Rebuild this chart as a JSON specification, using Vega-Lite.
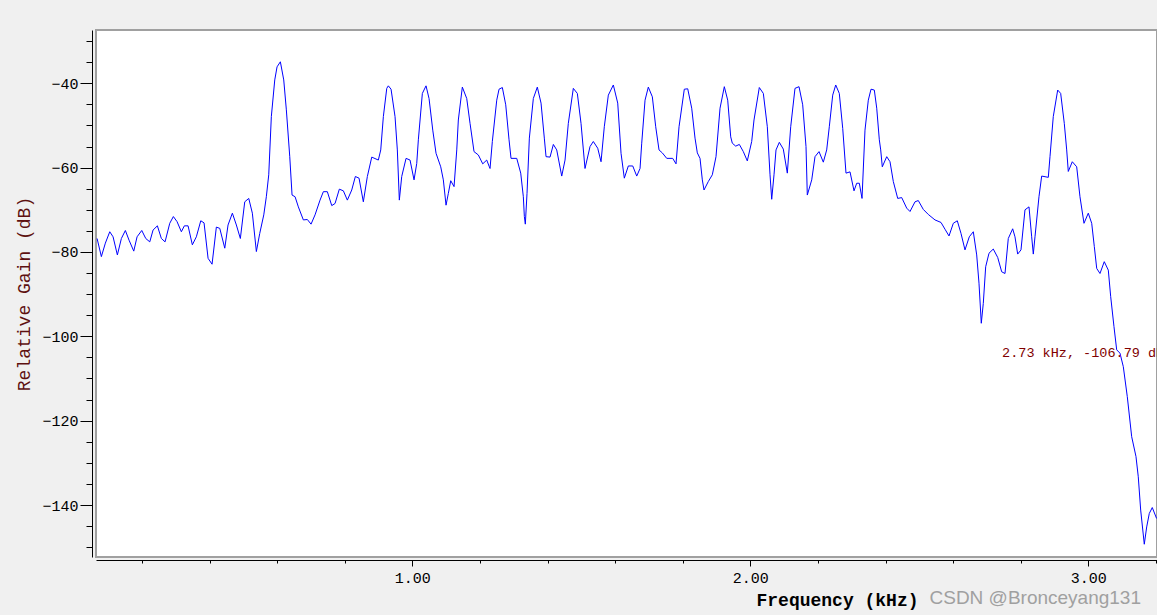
{
  "$schema": "https://vega.github.io/schema/vega-lite/v6.json",
  "width": 1061,
  "height": 527,
  "autosize": {"type": "none"},
  "padding": {"left": 96, "top": 30, "right": 0, "bottom": 58},
  "background": "#f0f0f0",
  "config": {
    "view": {"fill": "white", "stroke": "#a0a0a0", "strokeWidth": 2},
    "axis": {"grid": false, "domainColor": "black", "tickColor": "black", "labelColor": "black", "labelFont": "Liberation Mono", "labelFontSize": 15}
  },
  "title": {"text": "CSDN @Bronceyang131", "orient": "bottom", "anchor": "end", "frame": "group", "font": "Liberation Sans", "fontSize": 19, "fontWeight": "normal", "color": "#a0a0a0", "dx": -16, "dy": -9, "baseline": "alphabetic"},
  "datasets": {
    "spectrum": [
      {"f":0.0672,"g":-76.8},{"f":0.0799,"g":-81.1},{"f":0.0917,"g":-77.9},{"f":0.1047,"g":-75.2},{"f":0.1145,"g":-76.4},{"f":0.1272,"g":-80.7},{"f":0.1391,"g":-76.8},{"f":0.1509,"g":-74.9},{"f":0.1618,"g":-77.2},{"f":0.1757,"g":-79.8},{"f":0.1855,"g":-76.4},{"f":0.1994,"g":-74.9},{"f":0.2112,"g":-76.8},{"f":0.2231,"g":-77.6},{"f":0.2328,"g":-74.8},{"f":0.2456,"g":-73.8},{"f":0.2574,"g":-76.8},{"f":0.2683,"g":-77.6},{"f":0.2822,"g":-73.2},{"f":0.2929,"g":-71.6},{"f":0.3038,"g":-72.8},{"f":0.3166,"g":-75.2},{"f":0.3254,"g":-73.8},{"f":0.3364,"g":-73.8},{"f":0.3491,"g":-78.3},{"f":0.3609,"g":-76.4},{"f":0.3740,"g":-72.6},{"f":0.3837,"g":-73.1},{"f":0.3956,"g":-81.5},{"f":0.4074,"g":-82.9},{"f":0.4201,"g":-74.1},{"f":0.4302,"g":-74.4},{"f":0.4450,"g":-79.1},{"f":0.4547,"g":-73.6},{"f":0.4675,"g":-70.8},{"f":0.4793,"g":-73.6},{"f":0.4911,"g":-76.8},{"f":0.5041,"g":-68.1},{"f":0.5160,"g":-67.3},{"f":0.5266,"g":-70.8},{"f":0.5385,"g":-79.9},{"f":0.5485,"g":-75.6},{"f":0.5604,"g":-71.2},{"f":0.5680,"g":-66.9},{"f":0.5751,"g":-61.7},{"f":0.5828,"g":-47.9},{"f":0.5929,"g":-39.2},{"f":0.5997,"g":-36.1},{"f":0.6095,"g":-34.9},{"f":0.6195,"g":-39.2},{"f":0.6272,"g":-46.3},{"f":0.6373,"g":-57.4},{"f":0.6441,"g":-66.5},{"f":0.6530,"g":-66.9},{"f":0.6627,"g":-69.3},{"f":0.6775,"g":-72.4},{"f":0.6893,"g":-72.3},{"f":0.7003,"g":-73.4},{"f":0.7121,"g":-71.2},{"f":0.7269,"g":-67.7},{"f":0.7367,"g":-65.7},{"f":0.7485,"g":-65.7},{"f":0.7615,"g":-69.0},{"f":0.7713,"g":-68.5},{"f":0.7840,"g":-65.1},{"f":0.7959,"g":-65.5},{"f":0.8077,"g":-67.7},{"f":0.8207,"g":-65.3},{"f":0.8314,"g":-62.1},{"f":0.8423,"g":-62.5},{"f":0.8550,"g":-68.1},{"f":0.8669,"g":-62.1},{"f":0.8799,"g":-57.5},{"f":0.8994,"g":-58.2},{"f":0.9065,"g":-55.8},{"f":0.9142,"g":-47.9},{"f":0.9243,"g":-41.2},{"f":0.9290,"g":-40.6},{"f":0.9370,"g":-41.4},{"f":0.9488,"g":-47.9},{"f":0.9556,"g":-55.8},{"f":0.9615,"g":-67.7},{"f":0.9686,"g":-62.1},{"f":0.9814,"g":-57.8},{"f":0.9932,"g":-58.2},{"f":1.0050,"g":-62.9},{"f":1.0130,"g":-59.0},{"f":1.0178,"g":-53.4},{"f":1.0296,"g":-42.4},{"f":1.0405,"g":-40.6},{"f":1.0494,"g":-43.6},{"f":1.0604,"g":-51.1},{"f":1.0701,"g":-56.6},{"f":1.0840,"g":-59.8},{"f":1.0917,"g":-62.9},{"f":1.0997,"g":-68.9},{"f":1.1065,"g":-66.1},{"f":1.1136,"g":-63.1},{"f":1.1234,"g":-64.5},{"f":1.1314,"g":-55.8},{"f":1.1361,"g":-48.7},{"f":1.1479,"g":-40.9},{"f":1.1609,"g":-43.6},{"f":1.1707,"g":-49.5},{"f":1.1825,"g":-56.2},{"f":1.1953,"g":-57.0},{"f":1.2083,"g":-59.1},{"f":1.2201,"g":-58.2},{"f":1.2278,"g":-59.8},{"f":1.2299,"g":-60.2},{"f":1.2367,"g":-53.8},{"f":1.2497,"g":-44.0},{"f":1.2565,"g":-41.4},{"f":1.2663,"g":-41.0},{"f":1.2763,"g":-45.1},{"f":1.2861,"g":-53.4},{"f":1.2920,"g":-57.8},{"f":1.3089,"g":-57.8},{"f":1.3207,"g":-61.3},{"f":1.3284,"g":-66.9},{"f":1.3314,"g":-71.6},{"f":1.3343,"g":-73.4},{"f":1.3393,"g":-66.1},{"f":1.3462,"g":-53.0},{"f":1.3580,"g":-43.6},{"f":1.3698,"g":-40.9},{"f":1.3808,"g":-44.7},{"f":1.3905,"g":-53.0},{"f":1.3956,"g":-57.4},{"f":1.4074,"g":-57.5},{"f":1.4172,"g":-54.5},{"f":1.4272,"g":-55.8},{"f":1.4420,"g":-62.0},{"f":1.4518,"g":-58.2},{"f":1.4615,"g":-49.5},{"f":1.4763,"g":-41.2},{"f":1.4882,"g":-42.4},{"f":1.4991,"g":-49.5},{"f":1.5109,"g":-60.2},{"f":1.5257,"g":-55.0},{"f":1.5355,"g":-53.8},{"f":1.5485,"g":-55.4},{"f":1.5583,"g":-58.6},{"f":1.5680,"g":-50.3},{"f":1.5799,"g":-42.8},{"f":1.5947,"g":-40.4},{"f":1.6077,"g":-44.7},{"f":1.6175,"g":-56.6},{"f":1.6272,"g":-62.5},{"f":1.6391,"g":-59.6},{"f":1.6521,"g":-59.6},{"f":1.6639,"g":-62.0},{"f":1.6737,"g":-60.2},{"f":1.6787,"g":-54.2},{"f":1.6885,"g":-44.0},{"f":1.6982,"g":-40.9},{"f":1.7101,"g":-43.2},{"f":1.7201,"g":-50.3},{"f":1.7299,"g":-55.8},{"f":1.7396,"g":-56.5},{"f":1.7527,"g":-57.8},{"f":1.7704,"g":-57.8},{"f":1.7802,"g":-59.1},{"f":1.7891,"g":-50.3},{"f":1.8047,"g":-41.4},{"f":1.8148,"g":-41.3},{"f":1.8266,"g":-45.9},{"f":1.8364,"g":-53.0},{"f":1.8432,"g":-56.5},{"f":1.8512,"g":-57.8},{"f":1.8580,"g":-62.9},{"f":1.8630,"g":-65.3},{"f":1.8757,"g":-63.3},{"f":1.8876,"g":-61.7},{"f":1.8985,"g":-57.4},{"f":1.9104,"g":-45.9},{"f":1.9231,"g":-40.8},{"f":1.9331,"g":-44.0},{"f":1.9420,"g":-52.7},{"f":1.9467,"g":-54.2},{"f":1.9568,"g":-54.9},{"f":1.9675,"g":-54.5},{"f":1.9793,"g":-56.2},{"f":1.9911,"g":-58.4},{"f":2.0041,"g":-53.8},{"f":2.0109,"g":-48.7},{"f":2.0266,"g":-41.0},{"f":2.0385,"g":-42.4},{"f":2.0503,"g":-50.3},{"f":2.0583,"g":-61.7},{"f":2.0633,"g":-67.5},{"f":2.0701,"g":-61.7},{"f":2.0760,"g":-55.8},{"f":2.0858,"g":-54.0},{"f":2.0976,"g":-55.6},{"f":2.1095,"g":-61.3},{"f":2.1195,"g":-50.3},{"f":2.1322,"g":-41.2},{"f":2.1441,"g":-40.8},{"f":2.1550,"g":-45.1},{"f":2.1648,"g":-55.0},{"f":2.1686,"g":-66.5},{"f":2.1817,"g":-62.9},{"f":2.1914,"g":-57.4},{"f":2.2033,"g":-56.2},{"f":2.2160,"g":-58.7},{"f":2.2260,"g":-55.8},{"f":2.2337,"g":-50.3},{"f":2.2438,"g":-42.8},{"f":2.2527,"g":-40.4},{"f":2.2633,"g":-42.4},{"f":2.2734,"g":-50.7},{"f":2.2831,"g":-61.3},{"f":2.2950,"g":-61.0},{"f":2.3068,"g":-65.5},{"f":2.3148,"g":-63.7},{"f":2.3225,"g":-63.7},{"f":2.3305,"g":-67.3},{"f":2.3393,"g":-51.1},{"f":2.3491,"g":-44.0},{"f":2.3571,"g":-41.4},{"f":2.3669,"g":-41.6},{"f":2.3740,"g":-45.9},{"f":2.3817,"g":-53.4},{"f":2.3858,"g":-55.8},{"f":2.3905,"g":-59.8},{"f":2.4036,"g":-57.4},{"f":2.4133,"g":-58.6},{"f":2.4231,"g":-63.3},{"f":2.4361,"g":-67.3},{"f":2.4479,"g":-67.1},{"f":2.4627,"g":-69.6},{"f":2.4725,"g":-70.4},{"f":2.4873,"g":-68.1},{"f":2.4970,"g":-67.8},{"f":2.5118,"g":-69.9},{"f":2.5266,"g":-71.1},{"f":2.5464,"g":-72.4},{"f":2.5642,"g":-73.0},{"f":2.5760,"g":-74.6},{"f":2.5879,"g":-76.2},{"f":2.6006,"g":-73.2},{"f":2.6124,"g":-72.6},{"f":2.6234,"g":-75.6},{"f":2.6352,"g":-79.5},{"f":2.6479,"g":-76.4},{"f":2.6598,"g":-75.2},{"f":2.6698,"g":-80.7},{"f":2.6766,"g":-87.4},{"f":2.6834,"g":-96.9},{"f":2.6893,"g":-92.2},{"f":2.6964,"g":-83.5},{"f":2.7062,"g":-80.3},{"f":2.7189,"g":-79.3},{"f":2.7320,"g":-81.3},{"f":2.7438,"g":-84.7},{"f":2.7536,"g":-85.1},{"f":2.7633,"g":-76.8},{"f":2.7763,"g":-74.5},{"f":2.7831,"g":-76.4},{"f":2.7911,"g":-80.5},{"f":2.8009,"g":-79.5},{"f":2.8127,"g":-70.0},{"f":2.8246,"g":-69.3},{"f":2.8325,"g":-76.4},{"f":2.8373,"g":-80.5},{"f":2.8423,"g":-76.4},{"f":2.8541,"g":-66.9},{"f":2.8621,"g":-62.0},{"f":2.8817,"g":-62.3},{"f":2.8867,"g":-57.4},{"f":2.8964,"g":-47.9},{"f":2.9095,"g":-41.6},{"f":2.9183,"g":-42.4},{"f":2.9290,"g":-49.5},{"f":2.9361,"g":-55.8},{"f":2.9408,"g":-60.9},{"f":2.9527,"g":-58.6},{"f":2.9657,"g":-59.8},{"f":2.9754,"g":-66.9},{"f":2.9873,"g":-73.2},{"f":3.0000,"g":-70.8},{"f":3.0101,"g":-73.2},{"f":3.0178,"g":-78.7},{"f":3.0249,"g":-83.9},{"f":3.0346,"g":-85.1},{"f":3.0473,"g":-82.3},{"f":3.0592,"g":-84.3},{"f":3.0663,"g":-90.6},{"f":3.0760,"g":-97.7},{"f":3.0840,"g":-103.2},{"f":3.0938,"g":-104.0},{"f":3.1036,"g":-107.2},{"f":3.1154,"g":-114.3},{"f":3.1284,"g":-123.8},{"f":3.1411,"g":-128.5},{"f":3.1479,"g":-133.3},{"f":3.1550,"g":-141.2},{"f":3.1657,"g":-149.3},{"f":3.1728,"g":-145.2},{"f":3.1805,"g":-142.0},{"f":3.1893,"g":-140.6},{"f":3.2021,"g":-143.2}
    ],
    "cursor": [
      {"f": 2.745, "g": -104.0, "label": "2.73 kHz, -106.79 dB"}
    ]
  },
  "resolve": {"axis": {"x": "independent", "y": "independent"}},
  "layer": [
    {
      "data": {"name": "spectrum"},
      "mark": {"type": "line", "color": "#0000ff", "strokeWidth": 1, "clip": true, "interpolate": "linear"},
      "encoding": {
        "x": {"field": "f", "type": "quantitative",
          "scale": {"domain": [0.064, 3.2033], "nice": false, "zero": false},
          "axis": {"orient": "bottom", "values": [0.2,0.4,0.6,0.8,1.2,1.4,1.6,1.8,2.2,2.4,2.6,2.8,3.2], "labels": false, "tickSize": 3, "offset": 3, "title": null, "domain": true}},
        "y": {"field": "g", "type": "quantitative",
          "scale": {"domain": [-152.33, -27.36], "nice": false, "zero": false},
          "axis": {"orient": "left", "values": [-30,-35,-45,-50,-55,-65,-70,-75,-85,-90,-95,-105,-110,-115,-125,-130,-135,-145,-150], "labels": false, "tickSize": 6, "offset": 4, "title": null, "domain": true}}
      }
    },
    {
      "data": {"name": "cursor"},
      "mark": {"type": "text", "align": "left", "baseline": "middle", "color": "#800000", "font": "Liberation Mono", "fontSize": 13.5, "clip": false},
      "encoding": {
        "x": {"field": "f", "type": "quantitative",
          "axis": {"orient": "bottom", "values": [1, 2, 3], "format": ".2f", "tickSize": 6, "offset": 3, "labelPadding": 4, "domain": false,
            "title": "Frequency (kHz)", "titleFont": "Liberation Mono", "titleFontSize": 18, "titleFontWeight": "bold", "titleColor": "black",
            "titleX": 741, "titleY": 31, "titleAlign": "center", "titleBaseline": "top"}},
        "y": {"field": "g", "type": "quantitative",
          "axis": {"orient": "left", "values": [-40, -60, -80, -100, -120, -140], "tickSize": 12, "offset": 4, "labelPadding": 2, "domain": false,
            "title": "Relative Gain (dB)", "titleFont": "Liberation Mono", "titleFontSize": 18, "titleFontWeight": "normal", "titleColor": "#5e1010", "titlePadding": 8}},
        "text": {"field": "label"}
      }
    }
  ]
}
